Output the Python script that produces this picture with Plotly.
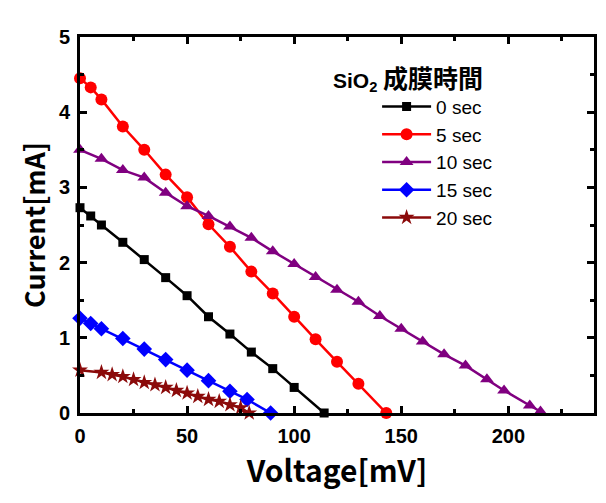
import plotly.graph_objects as go

# Data
v0 = [0, 5, 10, 20, 30, 40, 50, 60, 70, 80, 90, 100, 114]
i0 = [2.73, 2.62, 2.50, 2.27, 2.04, 1.80, 1.56, 1.28, 1.05, 0.81, 0.59, 0.34, 0.0]

v5 = [0, 5, 10, 20, 30, 40, 50, 60, 70, 80, 90, 100, 110, 120, 130, 143]
i5 = [4.45, 4.33, 4.17, 3.81, 3.50, 3.17, 2.87, 2.51, 2.21, 1.88, 1.59, 1.28, 0.98, 0.68, 0.39, 0.0]

v10 = [0, 10, 20, 30, 40, 50, 60, 70, 80, 90, 100, 110, 120, 130, 140, 150, 160, 170, 180, 190, 198, 210, 215]
i10 = [3.50, 3.38, 3.23, 3.13, 2.93, 2.75, 2.62, 2.48, 2.33, 2.15, 1.98, 1.81, 1.64, 1.48, 1.29, 1.12,
       0.95, 0.78, 0.63, 0.45, 0.30, 0.10, 0.02]

v15 = [0, 5, 10, 20, 30, 40, 50, 60, 70, 78, 89]
i15 = [1.26, 1.19, 1.12, 0.99, 0.85, 0.71, 0.57, 0.43, 0.29, 0.18, 0.0]

v20 = [0, 10, 15, 20, 25, 30, 35, 40, 45, 50, 55, 60, 65, 70, 75, 79]
i20 = [0.57, 0.54, 0.51, 0.485, 0.445, 0.405, 0.375, 0.34, 0.30, 0.265, 0.22, 0.18, 0.155, 0.11, 0.07, 0.0]

names = ["0 sec", "5 sec", "10 sec", "15 sec", "20 sec"]
colors = ["#000000", "#ff0000", "#800080", "#0000ff", "#8b0a0a"]
symbols = ["square", "circle", "triangle-up", "diamond", "star"]
msizes = [9, 12, 12, 12, 12]

series = [(v0, i0), (v5, i5), (v10, i10), (v15, i15), (v20, i20)]

fig = go.Figure()
for (vx, iy), nm, c, s, ms in zip(series, names, colors, symbols, msizes):
    fig.add_trace(go.Scatter(
        x=vx, y=iy, name=nm, mode="lines+markers",
        line=dict(color=c, width=2.5),
        marker=dict(symbol=s, size=ms, color=c),
        cliponaxis=False,
    ))

axis_common = dict(
    showline=True, linecolor="black", linewidth=3, mirror="ticks",
    ticks="inside", ticklen=7, tickwidth=2.5, tickcolor="black",
    showgrid=False, zeroline=False, ticklabelstandoff=3,
    tickfont=dict(family="Liberation Sans, Arial, sans-serif", size=20, color="black", weight="bold"),
)

fig.update_xaxes(
    range=[0, 240], dtick=50, tick0=0,
    minor=dict(dtick=25, ticks="inside", ticklen=4, tickwidth=2.5, tickcolor="black"),
    title=dict(text="Voltage[mV]",
               font=dict(family="Noto Sans CJK JP", size=30, color="black", weight="bold"), standoff=6),
    **axis_common,
)
fig.update_yaxes(
    range=[0, 5], dtick=1, tick0=0,
    minor=dict(dtick=0.5, ticks="inside", ticklen=4, tickwidth=2.5, tickcolor="black"),
    title=dict(text="Current[mA]",
               font=dict(family="Noto Sans CJK JP", size=27, color="black", weight="bold"), standoff=6),
    **axis_common,
)

fig.add_annotation(
    text=("<span style='font-family:Liberation Sans, Arial, sans-serif;font-size:21px'><b>SiO<sub>2</sub></b></span>"
          " <b>成膜時間</b>"),
    xref="paper", yref="paper",
    x=0.488, y=0.948, xanchor="left", yanchor="top", showarrow=False,
    font=dict(family="Noto Sans CJK JP", size=25, color="black"),
)

fig.update_layout(
    width=606, height=503,
    margin=dict(l=80, r=9, t=37, b=90),
    plot_bgcolor="white", paper_bgcolor="white",
    showlegend=True,
    legend=dict(
        x=0.578, y=0.865, xanchor="left", yanchor="top",
        font=dict(family="Liberation Sans, Arial, sans-serif", size=19, color="black"),
        bgcolor="rgba(0,0,0,0)", tracegroupgap=0, itemwidth=49,
    ),
)

fig.write_html("out.html")
